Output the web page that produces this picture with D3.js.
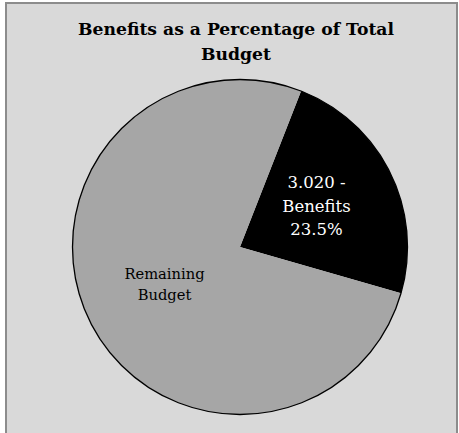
<!DOCTYPE html>
<html><head><meta charset="utf-8">
<script src="https://cdn.jsdelivr.net/npm/d3@7"></script>
<style>html,body{margin:0;padding:0;background:#fff;}svg{display:block;}</style>
</head><body>
<script>
const categories = ["Benefits", "Remaining Budget"];
const values = [23.5, 76.5];
const amounts = ["3.020", null];
const colors = ["#000000", "#a6a6a6"];
const titleLines = ["Benefits as a Percentage of Total", "Budget"];

const W = 459, H = 433;
const svg = d3.select("body").append("svg").attr("width", W).attr("height", H);
svg.append("rect").attr("x", 0).attr("y", 0).attr("width", W).attr("height", H).attr("fill", "#ffffff");
svg.append("rect").attr("x", 6).attr("y", 3).attr("width", 451).attr("height", H + 10)
  .attr("fill", "#d9d9d9").attr("stroke", "#8c8c8c").attr("stroke-width", 2);

const serif = "'DejaVu Serif', serif";
const title = svg.append("text").attr("text-anchor", "middle")
  .attr("font-family", serif).attr("font-weight", "bold").attr("font-size", 17.2);
title.selectAll("tspan").data(titleLines).join("tspan")
  .attr("x", 236).attr("y", (d, i) => 35 + i * 25).text(d => d);

const cx = 240, cy = 247, R = 167.5;
const start = 21.4 * Math.PI / 180;
const pie = d3.pie().sort(null).value(d => d.v).startAngle(start).endAngle(start + 2 * Math.PI);
const data = categories.map((c, i) => ({ c, v: values[i], amt: amounts[i], col: colors[i] }));
const arcs = pie(data);
const arc = d3.arc().innerRadius(0).outerRadius(R);
const g = svg.append("g").attr("transform", `translate(${cx},${cy})`);
g.selectAll("path.slice").data(arcs).join("path").attr("class", "slice")
  .attr("d", arc).attr("fill", d => d.data.col);
g.append("circle").attr("r", R).attr("fill", "none").attr("stroke", "#000").attr("stroke-width", 1.3);

arcs.forEach((a, i) => {
  let lines, pos, fill;
  if (i === 0) {
    lines = [a.data.amt + " -", a.data.c, d3.format(".1f")(a.data.v) + "%"];
    pos = [76.5, -59];
    fill = "#ffffff";
  } else {
    lines = a.data.c.split(" ");
    pos = [-75.5, 32];
    fill = "#000000";
  }
  const t = g.append("text").attr("text-anchor", "middle")
    .attr("font-family", serif).attr("font-size", i === 0 ? 16.5 : 14.7).attr("fill", fill)
    .attr("transform", `translate(${pos[0]},${pos[1]})`);
  t.selectAll("tspan").data(lines).join("tspan").attr("x", 0)
    .attr("y", (d, k) => k * (i === 0 ? 23.5 : 21)).text(d => d);
});
</script>
</body></html>
